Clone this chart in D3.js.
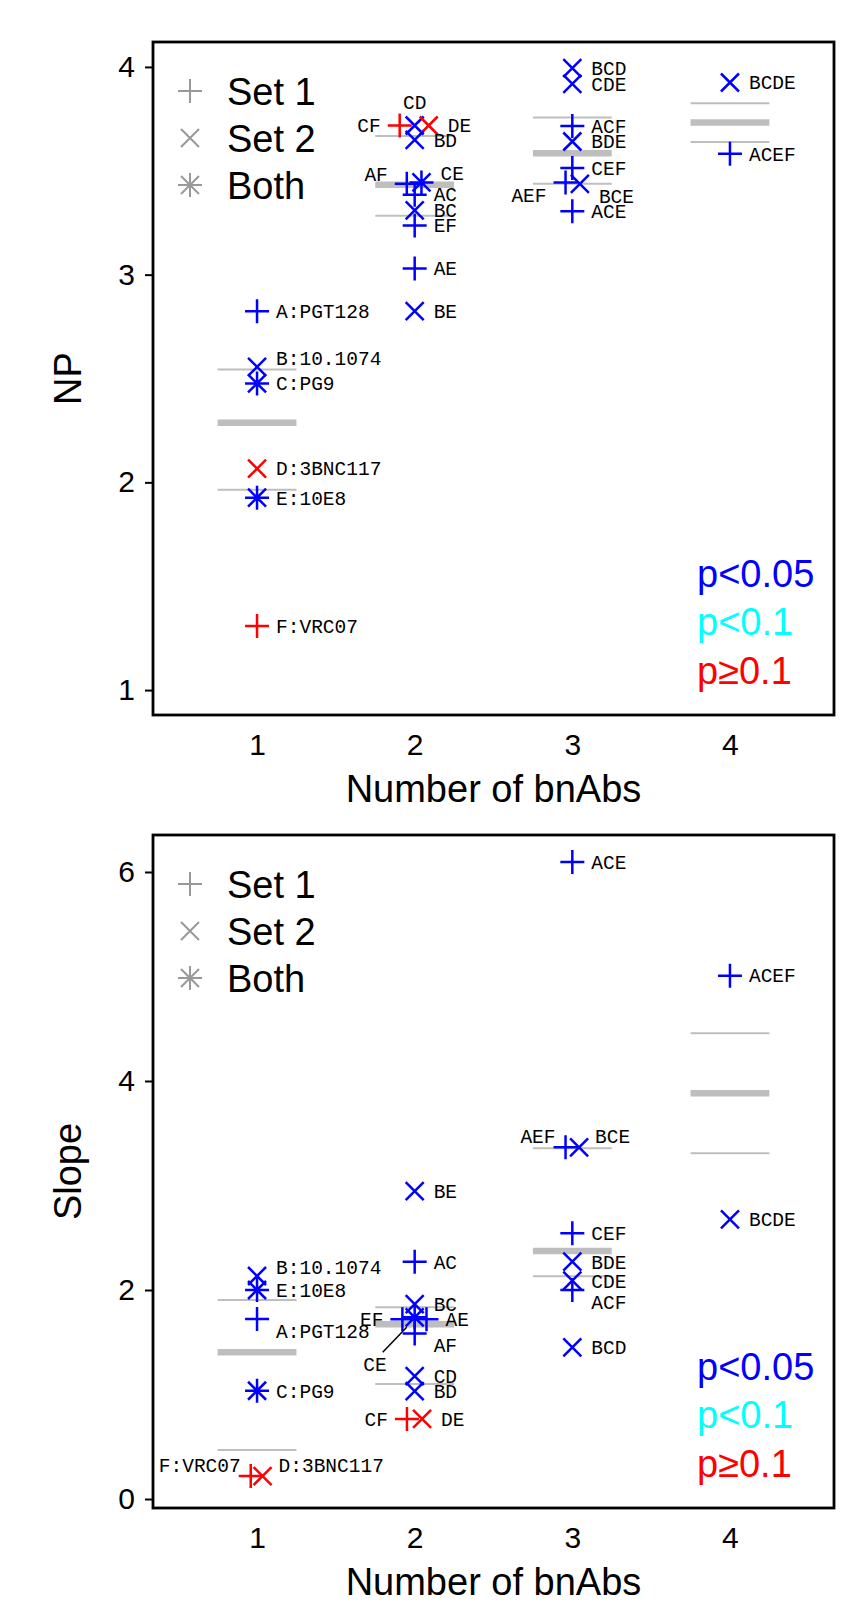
<!DOCTYPE html>
<html>
<head>
<meta charset="utf-8">
<script src="https://cdn.jsdelivr.net/npm/d3@7"></script>
<style>
  body { margin: 0; background: #fff; }
  text { font-family: 'Liberation Sans', Arial, Helvetica, sans-serif; }
  .pt-label { font-family: 'Courier New', 'Liberation Mono', monospace; font-size: 19.5px; }
</style>
</head>
<body>
<div id="chart"></div>
<script>
'use strict';

// ---- data: NP panel ----
const npCombos = ['A:PGT128', 'B:10.1074', 'C:PG9', 'D:3BNC117', 'E:10E8', 'F:VRC07',
  'CF', 'CD', 'DE', 'BD', 'AF', 'CE', 'AC', 'BC', 'EF', 'AE', 'BE',
  'BCD', 'CDE', 'ACF', 'BDE', 'CEF', 'AEF', 'BCE', 'ACE',
  'BCDE', 'ACEF'];
const npCount = [1, 1, 1, 1, 1, 1,
  1.905, 2, 2.089, 2, 1.95, 2.043, 2, 2, 2, 2, 2,
  3, 3, 3, 3, 3, 2.957, 3.048, 3,
  4, 4];
const npValues = [2.824, 2.556, 2.476, 2.066, 1.926, 1.309,
  3.718, 3.718, 3.718, 3.649, 3.4375, 3.444, 3.385, 3.309, 3.236, 3.029, 2.824,
  3.994, 3.918, 3.716, 3.641, 3.513, 3.444, 3.4375, 3.305,
  3.925, 3.582];
const npSets = ['1', '2', 'both', '2', 'both', '1',
  '1', '2', '2', '2', '1', 'both', '1', '2', '1', '1', '2',
  '2', '2', '1', '2', '1', '1', '2', '1',
  '2', '1'];
const npPvals = ['p<0.05', 'p<0.05', 'p<0.05', 'p≥0.1', 'p<0.05', 'p≥0.1',
  'p≥0.1', 'p<0.05', 'p≥0.1', 'p<0.05', 'p<0.05', 'p<0.05', 'p<0.05', 'p<0.05', 'p<0.05', 'p<0.05', 'p<0.05',
  'p<0.05', 'p<0.05', 'p<0.05', 'p<0.05', 'p<0.05', 'p<0.05', 'p<0.05', 'p<0.05',
  'p<0.05', 'p<0.05'];
// quartile bars per group: upper, median, lower
const npGroups = [1, 2, 3, 4];
const npUpper = [2.543, 3.668, 3.756, 3.825];
const npMedian = [2.287, 3.433, 3.585, 3.732];
const npLower = [1.965, 3.284, 3.4375, 3.638];

// ---- data: Slope panel ----
const slCombos = ['A:PGT128', 'B:10.1074', 'C:PG9', 'D:3BNC117', 'E:10E8', 'F:VRC07',
  'BE', 'AC', 'BC', 'EF', 'AE', 'CE', 'AF', 'CD', 'BD', 'CF', 'DE',
  'ACE', 'AEF', 'BCE', 'CEF', 'BDE', 'CDE', 'ACF', 'BCD',
  'BCDE', 'ACEF'];
const slCount = [1, 1, 1, 1.035, 1, 0.96,
  2, 2, 2, 1.922, 2.075, 2, 2, 2, 2, 1.951, 2.047,
  3, 2.957, 3.043, 3, 3, 3, 3, 3,
  4, 4];
const slValues = [1.722, 2.134, 1.036, 0.22, 2.0, 0.22,
  2.947, 2.271, 1.866, 1.72, 1.72, 1.739, 1.585, 1.177, 1.033, 0.766, 0.766,
  6.096, 3.365, 3.365, 2.542, 2.271, 2.089, 2.0, 1.45,
  2.676, 5.008];
const slSets = ['1', '2', 'both', '2', 'both', '1',
  '2', '1', '2', '1', '1', 'both', '1', '2', '2', '1', '2',
  '1', '1', '2', '1', '2', '2', '1', '2',
  '2', '1'];
const slPvals = ['p<0.05', 'p<0.05', 'p<0.05', 'p≥0.1', 'p<0.05', 'p≥0.1',
  'p<0.05', 'p<0.05', 'p<0.05', 'p<0.05', 'p<0.05', 'p<0.05', 'p<0.05', 'p<0.05', 'p<0.05', 'p≥0.1', 'p≥0.1',
  'p<0.05', 'p<0.05', 'p<0.05', 'p<0.05', 'p<0.05', 'p<0.05', 'p<0.05', 'p<0.05',
  'p<0.05', 'p<0.05'];
const slGroups = [1, 2, 3, 4];
const slUpper = [1.904, 1.834, 3.356, 4.456];
const slMedian = [1.404, 1.672, 2.373, 3.882];
const slLower = [0.469, 1.10, 2.131, 3.308];

const xTicks = [1, 2, 3, 4];
const npTicks = [1, 2, 3, 4];
const slTicks = [0, 2, 4, 6];
const legendSets = ['1', '2', 'both'];
const legendNames = ['Set 1', 'Set 2', 'Both'];
const pCategories = ['p<0.05', 'p<0.1', 'p≥0.1'];

// where each point label sits relative to its mark (layout, not data)
const npLabelSide = ['r', 'ru', 'r', 'r', 'r', 'r',
  'l', 't', 'r', 'r', 'lu', 'ru', 'r', 'r', 'r', 'r', 'r',
  'r', 'r', 'r', 'r', 'r', 'ld', 'rd', 'r',
  'r', 'r'];
const slLabelSide = ['rd', 'ru', 'r', 'ruc', 'r', 'luc',
  'r', 'r', 'r', 'l', 'r', 'lead', 'rd', 'r', 'r', 'l', 'r',
  'r', 'luc', 'ruc', 'r', 'r', 'r', 'rd', 'r',
  'r', 'r'];

const labelOffsets = {
  r: { dx: 19, dy: 0, anchor: 'start' },
  l: { dx: -19, dy: 0, anchor: 'end' },
  t: { dx: 0, dy: -23, anchor: 'middle' },
  ru: { dx: 19, dy: -9, anchor: 'start' },
  lu: { dx: -19, dy: -10, anchor: 'end' },
  rd: { dx: 19, dy: 12, anchor: 'start' },
  ld: { dx: -19, dy: 13, anchor: 'end' },
  ruc: { dx: 16, dy: -11, anchor: 'start' },
  luc: { dx: -10, dy: -11, anchor: 'end' },
  lead: { dx: -28, dy: 47, anchor: 'end', line: [-32, 35, -8, 10] }
};

const width = 855,
  height = 1616,
  left = 153,
  right = 834,
  panelH = 673;

const color = d3.scaleOrdinal().domain(pCategories).range(['#0000ff', '#00ffff', '#ff0000']);

const shapes = {
  '1': 'M-12,0H12M0,-12V12',
  '2': 'M-9,-9L9,9M-9,9L9,-9',
  'both': 'M-12,0H12M0,-12V12M-9,-9L9,9M-9,9L9,-9'
};

const svg = d3.select('#chart')
  .append('svg')
  .attr('width', width)
  .attr('height', height);

const xScale = d3.scaleLinear().domain([0.34, 4.66]).range([left, right]);

function drawPanel(p) {
  const top = p.top, bottom = top + panelH;
  const yScale = d3.scaleLinear().domain(p.domain).range([bottom, top]);
  const g = svg.append('g');

  // quartile bars
  const bars = [
    { vals: p.upper, w: 2 },
    { vals: p.median, w: 6.5 },
    { vals: p.lower, w: 2 }
  ];
  bars.forEach(b => {
    g.selectAll(null)
      .data(p.groups)
      .enter()
      .append('line')
      .attr('x1', d => xScale(d - 0.25))
      .attr('x2', d => xScale(d + 0.25))
      .attr('y1', (d, i) => yScale(b.vals[i]))
      .attr('y2', (d, i) => yScale(b.vals[i]))
      .attr('stroke', '#bebebe')
      .attr('stroke-width', b.w);
  });

  const points = p.combos.map((c, i) => ({
    name: c,
    x: p.count[i],
    v: p.values[i],
    set: p.sets[i],
    pval: p.pvals[i],
    side: p.sides[i]
  }));

  g.selectAll('path.pt')
    .data(points)
    .enter()
    .append('path')
    .attr('class', 'pt')
    .attr('d', d => shapes[d.set])
    .attr('transform', d => `translate(${xScale(d.x)},${yScale(d.v)})`)
    .attr('fill', 'none')
    .attr('stroke', d => color(d.pval))
    .attr('stroke-width', 2.5);

  g.selectAll('text.pt-label')
    .data(points)
    .enter()
    .append('text')
    .attr('class', 'pt-label')
    .attr('x', d => xScale(d.x) + labelOffsets[d.side].dx)
    .attr('y', d => yScale(d.v) + labelOffsets[d.side].dy)
    .attr('dy', '0.35em')
    .attr('text-anchor', d => labelOffsets[d.side].anchor)
    .attr('fill', '#000')
    .text(d => d.name);

  // leader lines for crowded labels
  g.selectAll('line.leader')
    .data(points.filter(d => labelOffsets[d.side].line))
    .enter()
    .append('line')
    .attr('class', 'leader')
    .attr('x1', d => xScale(d.x) + labelOffsets[d.side].line[0])
    .attr('y1', d => yScale(d.v) + labelOffsets[d.side].line[1])
    .attr('x2', d => xScale(d.x) + labelOffsets[d.side].line[2])
    .attr('y2', d => yScale(d.v) + labelOffsets[d.side].line[3])
    .attr('stroke', '#000')
    .attr('stroke-width', 1.5);

  // y axis
  const yAxis = d3.axisLeft(yScale)
    .tickValues(p.ticks)
    .tickFormat(d3.format('d'))
    .tickSize(8)
    .tickPadding(10);
  const ya = g.append('g')
    .attr('transform', `translate(${left},0)`)
    .call(yAxis);
  ya.select('.domain').remove();
  ya.selectAll('line').attr('stroke', '#000').attr('stroke-width', 2);
  ya.selectAll('text').attr('font-size', 30).attr('fill', '#000')
    .attr('font-family', "'Liberation Sans', Arial, sans-serif");

  // x axis labels only
  const xAxis = d3.axisBottom(xScale)
    .tickValues(xTicks)
    .tickFormat(d3.format('d'))
    .tickSize(0)
    .tickPadding(18.5);
  const xa = g.append('g')
    .attr('transform', `translate(0,${bottom})`)
    .call(xAxis);
  xa.select('.domain').remove();
  xa.selectAll('text').attr('font-size', 30).attr('fill', '#000')
    .attr('font-family', "'Liberation Sans', Arial, sans-serif");

  // frame
  g.append('rect')
    .attr('x', left)
    .attr('y', top)
    .attr('width', right - left)
    .attr('height', panelH)
    .attr('fill', 'none')
    .attr('stroke', '#000')
    .attr('stroke-width', 2.8);

  // axis titles
  g.append('text')
    .attr('x', (left + right) / 2)
    .attr('y', bottom + 87)
    .attr('text-anchor', 'middle')
    .attr('font-size', 38)
    .text('Number of bnAbs');

  g.append('text')
    .attr('transform', `translate(81,${(top + bottom) / 2}) rotate(-90)`)
    .attr('text-anchor', 'middle')
    .attr('font-size', 38)
    .text(p.title);

  // shape legend
  const leg = g.selectAll('g.leg')
    .data(legendSets)
    .enter()
    .append('g')
    .attr('class', 'leg')
    .attr('transform', (d, i) => `translate(190,${top + 49 + i * 47})`);
  leg.append('path')
    .attr('d', d => shapes[d])
    .attr('fill', 'none')
    .attr('stroke', '#999')
    .attr('stroke-width', 2);
  leg.append('text')
    .attr('x', 37)
    .attr('dy', '0.36em')
    .attr('font-size', 38)
    .text((d, i) => legendNames[i]);

  // p-value colour key
  g.selectAll('text.pkey')
    .data(pCategories)
    .enter()
    .append('text')
    .attr('class', 'pkey')
    .attr('x', 697)
    .attr('y', (d, i) => bottom - 142 + i * 48.5)
    .attr('dy', '0.36em')
    .attr('font-size', 38)
    .attr('fill', d => color(d))
    .text(d => d);
}

drawPanel({
  top: 42,
  domain: [0.88, 4.12],
  ticks: npTicks,
  title: 'NP',
  combos: npCombos, count: npCount, values: npValues, sets: npSets, pvals: npPvals, sides: npLabelSide,
  groups: npGroups, upper: npUpper, median: npMedian, lower: npLower
});

drawPanel({
  top: 835,
  domain: [-0.086, 6.354],
  ticks: slTicks,
  title: 'Slope',
  combos: slCombos, count: slCount, values: slValues, sets: slSets, pvals: slPvals, sides: slLabelSide,
  groups: slGroups, upper: slUpper, median: slMedian, lower: slLower
});
</script>
</body>
</html>
